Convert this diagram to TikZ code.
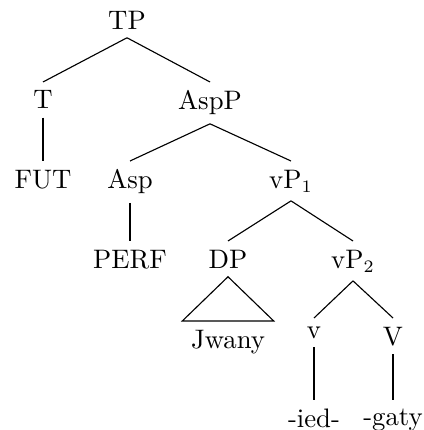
\documentclass[tikz,border=0pt]{standalone}
\begin{document}
\begin{tikzpicture}[x=0.4pt, y=-0.4pt,
  lbl/.style={anchor=north, inner sep=3.3pt, font=\fontsize{10.7}{13}\selectfont},
  branch/.style={line width=0.45pt}]
\useasboundingbox (0,0) rectangle (423,430);
% tree labels, placed by row
\node[lbl] (TP)   at (127,2)   {TP};
\node[lbl] (T)    at (43,82)   {T};
\node[lbl] (AspP) at (210,82)  {AspP};
\node[lbl] (FUT)  at (43,161)  {FUT};
\node[lbl] (Asp)  at (130,161) {Asp};
\node[lbl] (vP1)  at (291,161) {vP$_1$};
\node[lbl] (PERF) at (130,241) {PERF};
\node[lbl] (DP)   at (228,241) {DP};
\node[lbl] (vP2)  at (353,241) {vP$_2$};
\node[lbl] (Jw)   at (228,321) {Jwany};
\node[lbl] (v)    at (314,318) {v};
\node[lbl] (V)    at (393,318) {V};
\node[lbl] (ied)  at (314,400) {-ied-};
\node[lbl] (gaty) at (393,400) {-gaty};
% branches
\draw[branch] (TP.south) -- (T.north);
\draw[branch] (TP.south) -- (AspP.north);
\draw[branch] (T.south) -- (FUT.north);
\draw[branch] (AspP.south) -- (Asp.north);
\draw[branch] (AspP.south) -- (vP1.north);
\draw[branch] (Asp.south) -- (PERF.north);
\draw[branch] (vP1.south) -- (DP.north);
\draw[branch] (vP1.south) -- (vP2.north);
\draw[branch] (DP.south) -- (Jw.north west) -- (Jw.north east) -- cycle;
\draw[branch] (vP2.south) -- (v.north);
\draw[branch] (vP2.south) -- (V.north);
\draw[branch] (v.south) -- (ied.north);
\draw[branch] (V.south) -- (gaty.north);
\end{tikzpicture}
\end{document}
